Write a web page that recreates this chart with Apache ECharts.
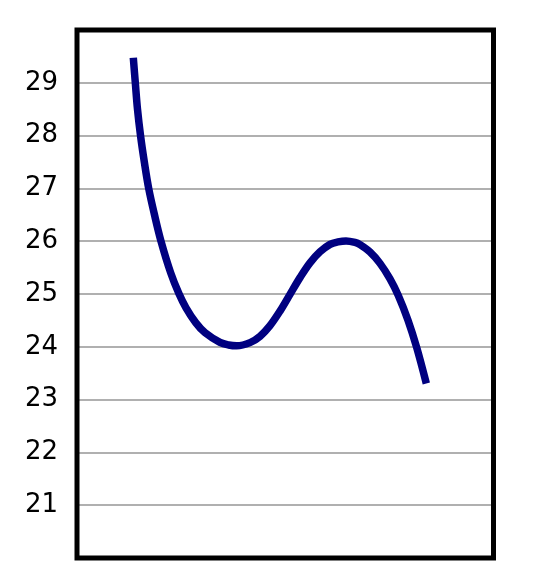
<!DOCTYPE html>
<html>
<head>
<meta charset="utf-8">
<script src="https://cdn.jsdelivr.net/npm/echarts@6/dist/echarts.min.js"></script>
<style>
html,body{margin:0;padding:0;background:#fff;}
#chart{width:542px;height:584px;}
</style>
</head>
<body>
<div id="chart"></div>
<script>
var xValues = [1.352, 1.400, 1.453, 1.525, 1.616, 1.721, 1.861, 2.017, 2.250, 2.449, 2.617, 2.850, 3.073, 3.433, 3.642, 3.834, 4.154, 4.394, 4.634, 4.874, 5.114, 5.354, 5.594, 5.834, 6.075, 6.267, 6.459, 6.675, 6.795, 7.035, 7.275, 7.515, 7.714, 7.947, 8.156, 8.387];
var yValues = [29.473, 29.000, 28.495, 28.001, 27.501, 27.000, 26.498, 26.000, 25.400, 25.003, 24.738, 24.458, 24.267, 24.083, 24.034, 24.019, 24.079, 24.199, 24.401, 24.676, 24.994, 25.310, 25.590, 25.798, 25.940, 25.987, 26.006, 25.976, 25.934, 25.794, 25.580, 25.287, 24.973, 24.505, 23.987, 23.305];
var yTicks = [21, 22, 23, 24, 25, 26, 27, 28, 29];

var points = xValues.map(function (x, i) { return [x, yValues[i]]; });

var chart = echarts.init(document.getElementById('chart'));
chart.setOption({
  animation: false,
  grid: {
    left: 77, right: 48.5, top: 30, bottom: 26,
    show: true, borderColor: '#000', borderWidth: 5, backgroundColor: 'transparent', z: 3
  },
  xAxis: {
    type: 'value', min: 0, max: 10, show: false
  },
  yAxis: {
    type: 'value', min: 20, max: 30, interval: 1,
    axisLine: { show: false },
    axisTick: { show: false },
    axisLabel: {
      margin: 19,
      color: '#000',
      fontFamily: 'DejaVu Sans',
      fontSize: 26,
      formatter: function (v) { return yTicks.indexOf(v) >= 0 ? String(v) : ''; }
    },
    splitLine: {
      show: true,
      showMinLine: false,
      showMaxLine: false,
      lineStyle: { color: '#b0b0b0', width: 2 }
    }
  },
  series: [{
    type: 'line',
    data: points,
    smooth: 0.35,
    showSymbol: false,
    symbol: 'none',
    lineStyle: { color: '#000080', width: 7.5, cap: 'butt' },
    z: 5
  }]
});
</script>
</body>
</html>
